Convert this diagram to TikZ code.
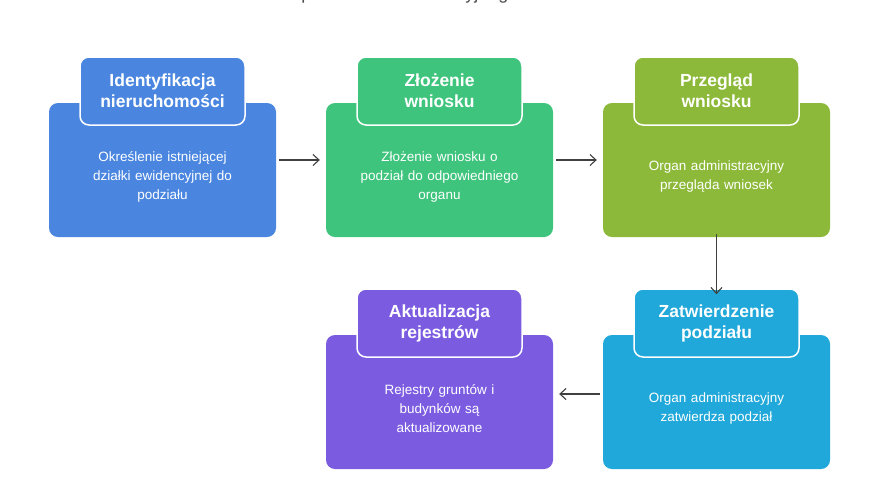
\documentclass[tikz,border=0pt]{standalone}
\usepackage{fontspec}
\setmainfont{Liberation Sans}
\usetikzlibrary{arrows.meta}
\definecolor{cA}{HTML}{4A86E0}
\definecolor{cB}{HTML}{3EC47C}
\definecolor{cC}{HTML}{8DB93A}
\definecolor{cD}{HTML}{1FA8D9}
\definecolor{cE}{HTML}{7B5CE1}
\begin{document}
\begin{tikzpicture}[x=1pt,y=-1pt,
 body/.style={rounded corners=9pt,minimum width=227pt,minimum height=134pt,inner sep=0pt},
 tab/.style={rounded corners=9pt,draw=white,line width=1.5pt,minimum width=165pt,minimum height=68pt,text width=150pt,align=center,font=\bfseries\fontsize{17.5}{21}\selectfont,text=white},
 desc/.style={text width=190pt,align=center,font=\fontsize{13.5}{19}\selectfont,text=white},
 arr/.style={-{Straight Barb[length=6pt,width=11pt]},line width=1.1pt,draw=black!75}]
\useasboundingbox (0,0) rectangle (880,480);
\node[font=\fontsize{18}{21}\selectfont,text=black!70] (title) at (440,-5) {Proces podziału administracyjnego nieruchomości};
\foreach \n/\x/\y/\c/\t/\d in {
 a/162.5/170/cA/{Identyfikacja\\nieruchomości}/{Określenie istniejącej\\działki ewidencyjnej do\\podziału},
 b/439.5/170/cB/{Złożenie\\wniosku}/{Złożenie wniosku o\\podział do odpowiedniego\\organu},
 c/716.5/170/cC/{Przegląd\\wniosku}/{Organ administracyjny\\przegląda wniosek},
 d/716.5/402/cD/{Zatwierdzenie\\podziału}/{Organ administracyjny\\zatwierdza podział},
 e/439.5/402/cE/{Aktualizacja\\rejestrów}/{Rejestry gruntów i\\budynków są\\aktualizowane}}{
 \node[body,fill=\c] (\n) at (\x,\y) {};
 \node[tab,fill=\c] (\n-t) at (\x,\y-79) {\t};
 \node[desc] (\n-d) at (\x,\y+7) {\d};
}
\draw[arr] ([xshift=3pt,yshift=10pt]a.east) -- ([xshift=-6pt,yshift=10pt]b.west);
\draw[arr] ([xshift=3pt,yshift=10pt]b.east) -- ([xshift=-6pt,yshift=10pt]c.west);
\draw[arr] ([yshift=3pt]c.south) -- ([yshift=-6pt]d-t.north);
\draw[arr] ([xshift=-3pt,yshift=8pt]d.west) -- ([xshift=6pt,yshift=8pt]e.east);
\end{tikzpicture}
\end{document}
